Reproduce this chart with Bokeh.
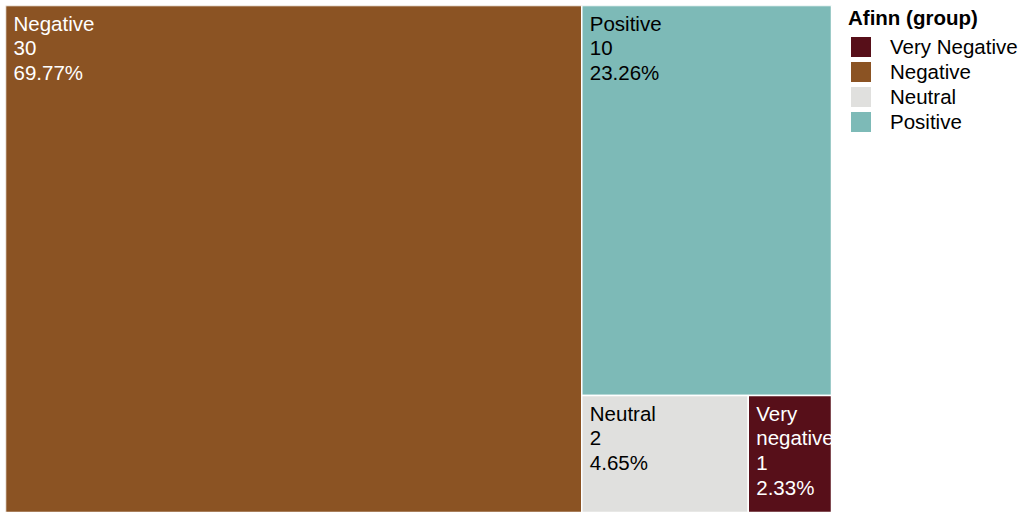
from bokeh.plotting import figure
from bokeh.models import ColumnDataSource, Range1d, Legend, LegendItem
from bokeh.core.properties import value
from bokeh.embed import file_html
from bokeh.resources import INLINE

# ---- data ----
tile_names = ["Negative", "Positive", "Neutral", "Very negative"]
tile_counts = [30, 10, 2, 1]
tile_colors = ["#8B5323", "#7DBAB7", "#E0E0DE", "#570F19"]
tile_text_colors = ["white", "black", "black", "white"]

legend_title = "Afinn (group)"
legend_labels = ["Very Negative", "Negative", "Neutral", "Positive"]
legend_colors = ["#570F19", "#8B5323", "#E0E0DE", "#7DBAB7"]

FONT = "Liberation Sans"
W, H = 826.0, 507.0
FIG_W, FIG_H = 1024, 512
LEFT, TOP = 5, 5
FRAME_W, FRAME_H = FIG_W - LEFT, FIG_H - TOP


def worst(row, side):
    s = sum(row)
    return max(max(side * side * r / (s * s), (s * s) / (side * side * r)) for r in row)


def squarify(vals, x, y, w, h):
    total = sum(vals)
    areas = [v * w * h / total for v in vals]
    rects = []
    i = 0
    while i < len(areas):
        side = min(w, h)
        row = [areas[i]]
        j = i + 1
        while j < len(areas) and worst(row + [areas[j]], side) <= worst(row, side):
            row.append(areas[j])
            j += 1
        s = sum(row)
        if w >= h:
            cw = s / h
            cy = y
            for a in row:
                rh = a / cw
                rects.append((x, cy, x + cw, cy + rh))
                cy += rh
            x += cw
            w -= cw
        else:
            rh = s / w
            cx = x
            for a in row:
                rw = a / rh
                rects.append((cx, y, cx + rw, y + rh))
                cx += rw
            y += rh
            h -= rh
        i = j
    return rects


rects = squarify(tile_counts, 0.0, 0.0, W, H)
total = sum(tile_counts)


def make_label(name, count, width):
    est = len(name) * 0.55 * 20.5
    nm = name.replace(" ", "\n") if est > width - 12 else name
    return f"{nm}\n{count}\n{100.0 * count / total:.2f}%"


src = ColumnDataSource(dict(
    left=[r[0] for r in rects], top=[r[1] for r in rects],
    right=[r[2] for r in rects], bottom=[r[3] for r in rects],
    color=tile_colors, tcolor=tile_text_colors,
    label=[make_label(n, c, r[2] - r[0]) for n, c, r in zip(tile_names, tile_counts, rects)],
))

p = figure(width=FIG_W, height=FIG_H, output_backend="svg", toolbar_location=None,
           x_range=Range1d(0, FRAME_W), y_range=Range1d(FRAME_H, 0),
           min_border_left=LEFT, min_border_top=TOP, min_border_bottom=0, min_border_right=0)
p.axis.visible = False
p.grid.visible = False
p.outline_line_color = None
p.background_fill_color = "white"

p.quad(left="left", right="right", top="top", bottom="bottom", source=src,
       fill_color="color", line_color="white", line_width=1.5)
p.text(x="left", y="top", text="label", source=src, text_color="tcolor",
       x_offset=8, y_offset=6, text_baseline="top", text_align="left",
       text_font=value(FONT), text_font_size="20.5px", text_line_height=1.08)

items = []
for lab, col in zip(legend_labels, legend_colors):
    r = p.quad(left=[0], right=[0], top=[0], bottom=[0], fill_color=col, line_color=None)
    items.append(LegendItem(label=lab, renderers=[r]))

legend = Legend(items=items, title=legend_title, location=(843, FRAME_H - 129),
                title_text_font=FONT, title_text_font_style="bold", title_text_font_size="20.5px",
                title_text_color="black",
                label_text_font=FONT, label_text_font_size="20.5px", label_text_color="black",
                glyph_width=25, glyph_height=25, label_height=25, spacing=0,
                label_standoff=17, padding=4, margin=0, title_standoff=4,
                border_line_color=None, background_fill_alpha=0)
p.add_layout(legend)

open("out.html", "w").write(file_html(p, INLINE))
